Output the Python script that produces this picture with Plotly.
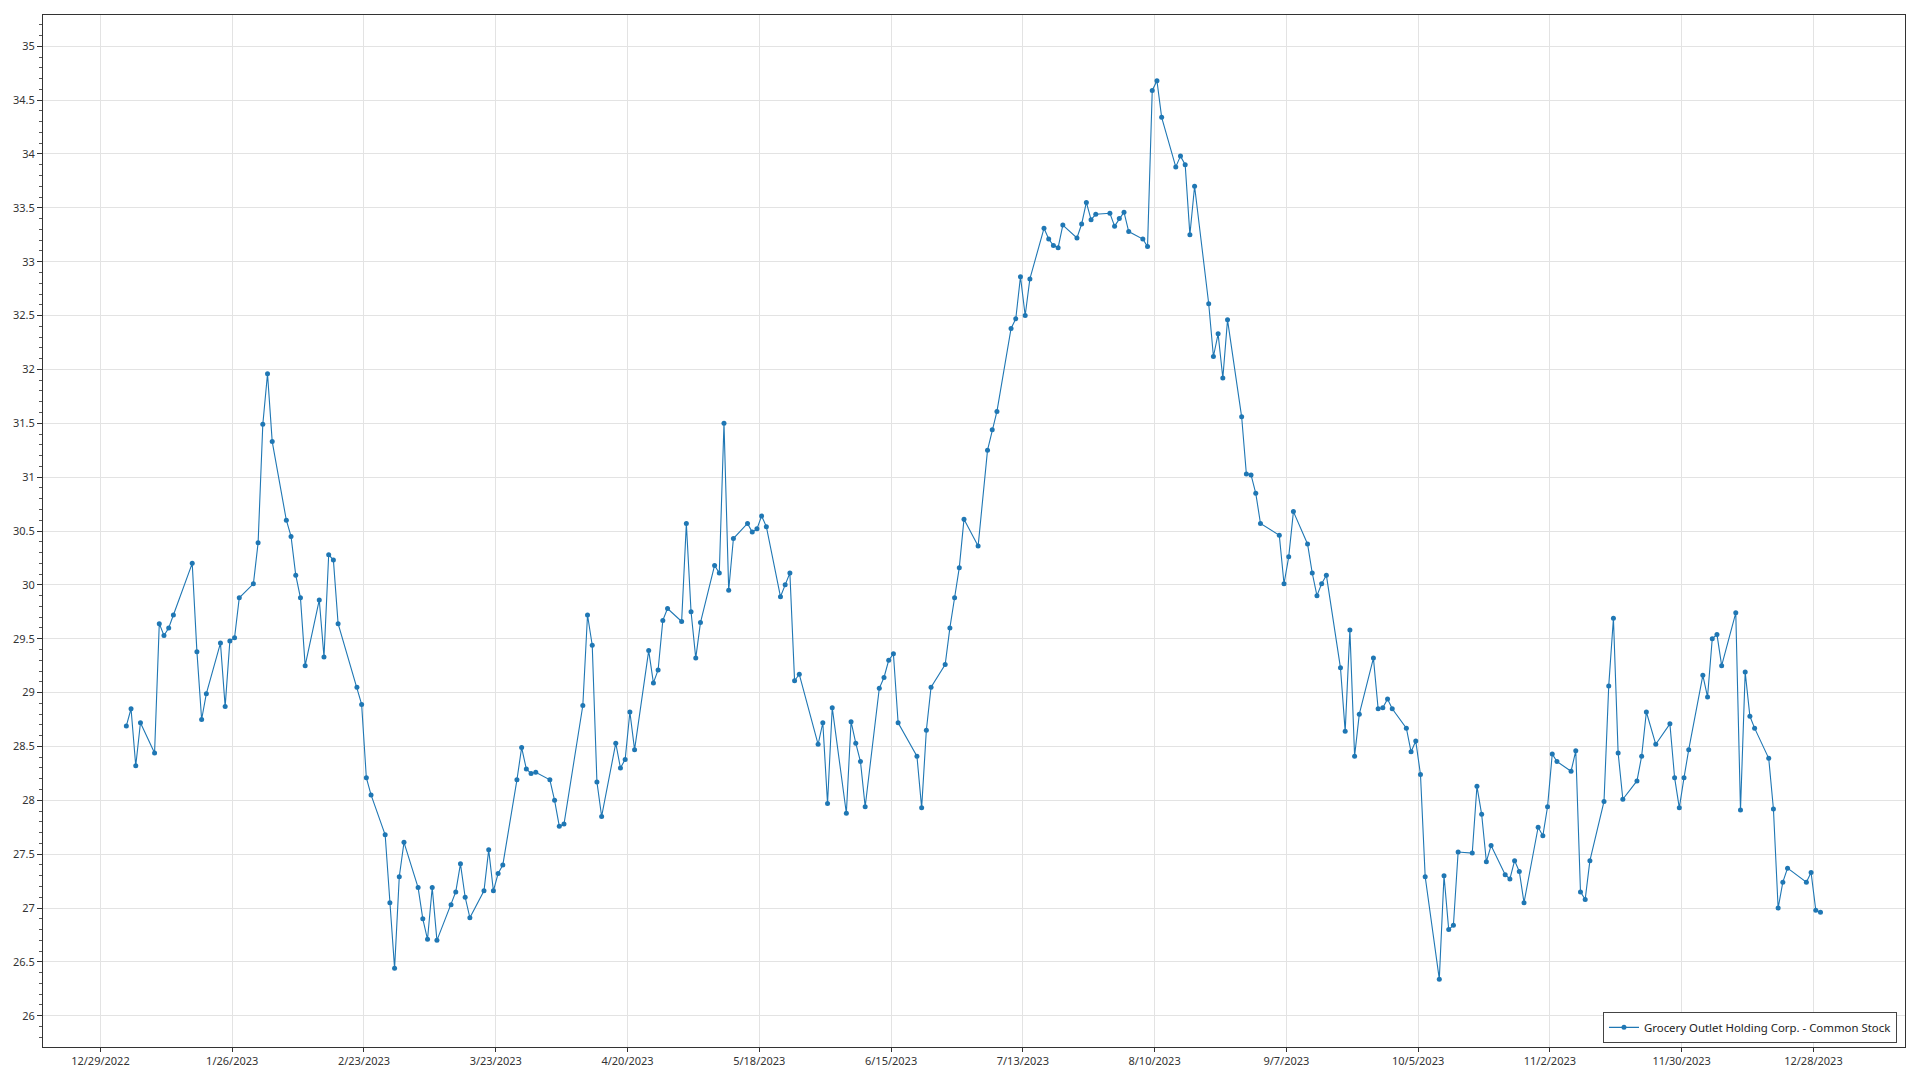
import pandas as pd
import plotly.graph_objects as go

# ---- data (daily closing price, 2023) ----
jan_days = [3, 4, 5, 6, 9, 10, 11, 12, 13, 17, 18, 19, 20, 23, 24, 25, 26, 27, 30, 31]
jan_close = [28.69, 28.85, 28.32, 28.72, 28.44, 29.64, 29.53, 29.60, 29.72, 30.20, 29.38, 28.75, 28.99,
             29.46, 28.87, 29.48, 29.51, 29.88, 30.01, 30.39]
feb_days = [1, 2, 3, 6, 7, 8, 9, 10, 13, 14, 15, 16, 17, 21, 22, 23, 24, 27, 28]
feb_close = [31.49, 31.96, 31.33, 30.60, 30.45, 30.09, 29.88, 29.25, 29.86, 29.33, 30.28, 30.23, 29.64,
             29.05, 28.89, 28.21, 28.05, 27.68, 27.05]
mar_days = [1, 2, 3, 6, 7, 8, 9, 10, 13, 14, 15, 16, 17, 20, 21, 22, 23, 24, 27, 28, 29, 30, 31]
mar_close = [26.44, 27.29, 27.61, 27.19, 26.90, 26.71, 27.19, 26.70, 27.03, 27.15, 27.41, 27.10, 26.91,
             27.16, 27.54, 27.16, 27.32, 27.40, 28.19, 28.49, 28.29, 28.25, 28.26]
apr_days = [3, 4, 5, 6, 10, 11, 12, 13, 14, 17, 18, 19, 20, 21, 24, 25, 26, 27, 28]
apr_close = [28.19, 28.00, 27.76, 27.78, 28.88, 29.72, 29.44, 28.17, 27.85, 28.53, 28.30, 28.38, 28.82,
             28.47, 29.39, 29.09, 29.21, 29.67, 29.78]
may_days = [1, 2, 3, 4, 5, 8, 9, 10, 11, 12, 15, 16, 17, 18, 19, 22, 23, 24, 25, 26, 30, 31]
may_close = [29.66, 30.57, 29.75, 29.32, 29.65, 30.18, 30.11, 31.50, 29.95, 30.43, 30.57, 30.49, 30.52,
             30.64, 30.54, 29.89, 30.00, 30.11, 29.11, 29.17, 28.52, 28.72]
jun_days = [1, 2, 5, 6, 7, 8, 9, 12, 13, 14, 15, 16, 20, 21, 22, 23, 26, 27, 28, 29, 30]
jun_close = [27.97, 28.86, 27.88, 28.73, 28.53, 28.36, 27.94, 29.04, 29.14, 29.30, 29.36, 28.72, 28.41,
             27.93, 28.65, 29.05, 29.26, 29.60, 29.88, 30.16, 30.61]
jul_days = [3, 5, 6, 7, 10, 11, 12, 13, 14, 17, 18, 19, 20, 21, 24, 25, 26, 27, 28, 31]
jul_close = [30.36, 31.25, 31.44, 31.61, 32.38, 32.47, 32.86, 32.50, 32.84, 33.31, 33.21, 33.15, 33.13,
             33.34, 33.22, 33.35, 33.55, 33.39, 33.44, 33.45]
aug_days = [1, 2, 3, 4, 7, 8, 9, 10, 11, 14, 15, 16, 17, 18, 21, 22, 23, 24, 25, 28, 29, 30, 31]
aug_close = [33.33, 33.40, 33.46, 33.28, 33.21, 33.14, 34.59, 34.68, 34.34, 33.88, 33.98, 33.90, 33.25,
             33.70, 32.61, 32.12, 32.33, 31.92, 32.46, 31.56, 31.03, 31.02, 30.85]
sep_days = [1, 5, 6, 7, 8, 11, 12, 13, 14, 15, 18, 19, 20, 21, 22, 25, 26, 27, 28, 29]
sep_close = [30.57, 30.46, 30.01, 30.26, 30.68, 30.38, 30.11, 29.90, 30.01, 30.09, 29.23, 28.64, 29.58,
             28.41, 28.80, 29.32, 28.85, 28.86, 28.94, 28.85]
oct_days = [2, 3, 4, 5, 6, 9, 10, 11, 12, 13, 16, 17, 18, 19, 20, 23, 24, 25, 26, 27, 30, 31]
oct_close = [28.67, 28.45, 28.55, 28.24, 27.29, 26.34, 27.30, 26.80, 26.84, 27.52, 27.51, 28.13, 27.87,
             27.43, 27.58, 27.31, 27.27, 27.44, 27.34, 27.05, 27.75, 27.67]
nov_days = [1, 2, 3, 6, 7, 8, 9, 10, 13, 14, 15, 16, 17, 20, 21, 22, 24, 27, 28, 29, 30]
nov_close = [27.94, 28.43, 28.36, 28.27, 28.46, 27.15, 27.08, 27.44, 27.99, 29.06, 29.69, 28.44, 28.01,
             28.18, 28.41, 28.82, 28.52, 28.71, 28.21, 27.93, 28.21]
dec_days = [1, 4, 5, 6, 7, 8, 11, 12, 13, 14, 15, 18, 19, 20, 21, 22, 26, 27, 28, 29]
dec_close = [28.47, 29.16, 28.96, 29.50, 29.54, 29.25, 29.74, 27.91, 29.19, 28.78, 28.67, 28.39, 27.92,
             27.00, 27.24, 27.37, 27.24, 27.33, 26.98, 26.96]

series_name = "Grocery Outlet Holding Corp. - Common Stock"
tick_labels = ["12/29/2022", "1/26/2023", "2/23/2023", "3/23/2023", "4/20/2023", "5/18/2023",
               "6/15/2023", "7/13/2023", "8/10/2023", "9/7/2023", "10/5/2023", "11/2/2023",
               "11/30/2023", "12/28/2023"]
y_ticks = [26 + 0.5 * i for i in range(19)]

months = [(1, jan_days, jan_close), (2, feb_days, feb_close), (3, mar_days, mar_close),
          (4, apr_days, apr_close), (5, may_days, may_close), (6, jun_days, jun_close),
          (7, jul_days, jul_close), (8, aug_days, aug_close), (9, sep_days, sep_close),
          (10, oct_days, oct_close), (11, nov_days, nov_close), (12, dec_days, dec_close)]

dates, closes = [], []
for m, ds, cs in months:
    for d, c in zip(ds, cs):
        dates.append(pd.Timestamp(2023, m, d))
        closes.append(c)

# gridlines in the original sit half a day before the labelled date
tick_vals = [pd.to_datetime(t, format="%m/%d/%Y") - pd.Timedelta(hours=12) for t in tick_labels]

FONT = "Noto Sans, Open Sans, sans-serif"
BLUE = "#1f77b4"

fig = go.Figure()
fig.add_trace(go.Scatter(
    x=dates, y=closes, mode="lines+markers", name=series_name,
    line=dict(color=BLUE, width=1.1),
    marker=dict(color=BLUE, size=5),
    showlegend=True,
))

fig.update_layout(
    width=1920, height=1080,
    margin=dict(l=43, r=15, t=15, b=30),
    paper_bgcolor="white", plot_bgcolor="white",
    font=dict(family=FONT, size=11, color="#333333"),
    showlegend=True,
    legend=dict(
        x=0.9957, y=0.004, xanchor="right", yanchor="bottom",
        bgcolor="white", bordercolor="#444444", borderwidth=1,
        font=dict(family=FONT, size=11.4, color="#222222"),
        itemwidth=30,
    ),
    xaxis=dict(
        range=["2022-12-16 07:00", "2024-01-15 23:00"],
        tickvals=tick_vals, ticktext=tick_labels,
        showgrid=True, gridcolor="#e3e3e3", gridwidth=1,
        showline=True, linecolor="#333333", linewidth=1, mirror=True,
        ticks="outside", ticklen=4, tickcolor="#333333",
        tickfont=dict(size=11, color="#333333"),
        zeroline=False,
    ),
    yaxis=dict(
        range=[25.71, 35.29],
        tickvals=y_ticks, ticktext=[f"{v:g}" for v in y_ticks],
        showgrid=True, gridcolor="#e3e3e3", gridwidth=1,
        showline=True, linecolor="#333333", linewidth=1, mirror=True,
        ticks="outside", ticklen=5, tickcolor="#333333",
        tickfont=dict(size=11, color="#333333"),
        minor=dict(dtick=0.1, ticks="outside", ticklen=3, tickcolor="#555555", showgrid=False),
        zeroline=False,
    ),
)

fig.write_html("out.html", config={"displayModeBar": False},
               post_script="document.body.style.margin='0';")
